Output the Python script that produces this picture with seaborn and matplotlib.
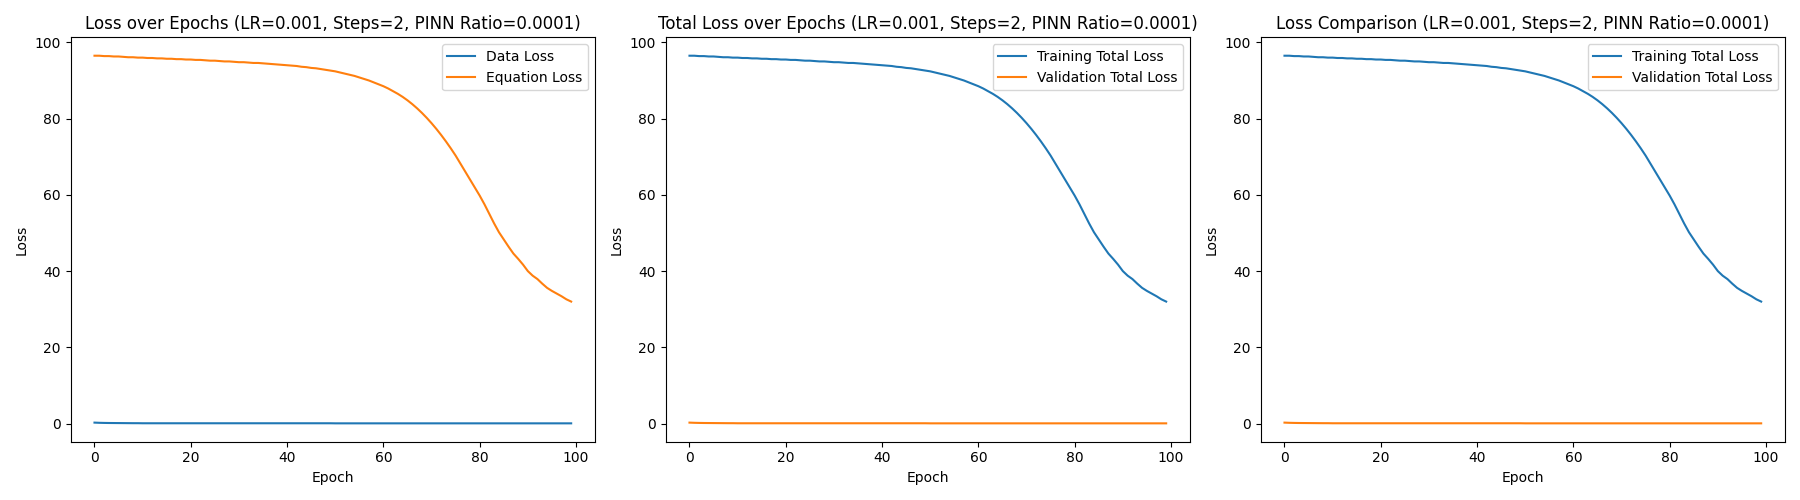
import numpy as np
import pandas as pd
import seaborn as sns
import matplotlib.pyplot as plt

# Values
epochs = list(range(100))

total_loss = [
    96.5, 96.5, 96.4, 96.4, 96.3, 96.3, 96.2, 96.1, 96.1, 96.0,
    96.0, 95.9, 95.9, 95.8, 95.8, 95.7, 95.7, 95.6, 95.6, 95.5,
    95.5, 95.4, 95.4, 95.3, 95.2, 95.2, 95.1, 95.0, 95.0, 94.9,
    94.8, 94.8, 94.7, 94.6, 94.6, 94.5, 94.4, 94.3, 94.2, 94.1,
    94.0, 93.9, 93.8, 93.6, 93.5, 93.3, 93.2, 93.0, 92.8, 92.6,
    92.4, 92.1, 91.8, 91.5, 91.2, 90.8, 90.4, 90.0, 89.5, 89.0,
    88.5, 87.9, 87.2, 86.5, 85.7, 84.8, 83.8, 82.7, 81.5, 80.2,
    78.8, 77.3, 75.7, 74.0, 72.2, 70.3, 68.2, 66.1, 64.0, 61.9,
    59.8, 57.5, 55.0, 52.5, 50.2, 48.3, 46.4, 44.6, 43.2, 41.7,
    40.0, 38.8, 37.9, 36.7, 35.6, 34.8, 34.1, 33.4, 32.6, 32.0,
]

small_loss = [0.25, 0.2, 0.17, 0.15, 0.14, 0.13, 0.12, 0.11, 0.1, 0.1] + [0.08] * 40 + [0.06] * 50

df = pd.DataFrame({"Epoch": epochs, "big": total_loss, "small": small_loss})

titles = [
    "Loss over Epochs (LR=0.001, Steps=2, PINN Ratio=0.0001)",
    "Total Loss over Epochs (LR=0.001, Steps=2, PINN Ratio=0.0001)",
    "Loss Comparison (LR=0.001, Steps=2, PINN Ratio=0.0001)",
]
labels = [
    ("Data Loss", "Equation Loss"),
    ("Training Total Loss", "Validation Total Loss"),
    ("Training Total Loss", "Validation Total Loss"),
]

fig, axes = plt.subplots(1, 3, figsize=(18, 5), dpi=100)

for i, ax in enumerate(axes):
    if i == 0:
        sns.lineplot(data=df, x="Epoch", y="small", ax=ax, label=labels[i][0], color="tab:blue")
        sns.lineplot(data=df, x="Epoch", y="big", ax=ax, label=labels[i][1], color="tab:orange")
    else:
        sns.lineplot(data=df, x="Epoch", y="big", ax=ax, label=labels[i][0], color="tab:blue")
        sns.lineplot(data=df, x="Epoch", y="small", ax=ax, label=labels[i][1], color="tab:orange")
    ax.set_title(titles[i])
    ax.set_xlabel("Epoch")
    ax.set_ylabel("Loss")
    ax.legend(loc="upper right")

plt.tight_layout()
plt.savefig("out.png")
